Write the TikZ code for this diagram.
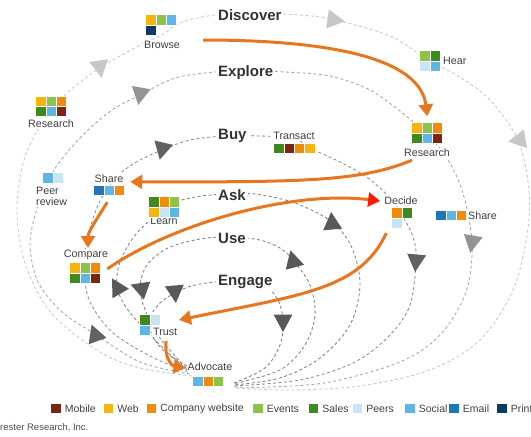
\documentclass[tikz,border=0pt]{standalone}
\usepackage{fontspec}
\setmainfont{Liberation Sans}
\usetikzlibrary{arrows.meta}

\definecolor{mobile}{HTML}{7A2511}
\definecolor{web}{HTML}{F6B40E}
\definecolor{company}{HTML}{F08C0A}
\definecolor{events}{HTML}{8DC34A}
\definecolor{sales}{HTML}{3F8A1F}
\definecolor{peers}{HTML}{C8E5F5}
\definecolor{social}{HTML}{5DB6E6}
\definecolor{email}{HTML}{1E77B8}
\definecolor{print}{HTML}{0D3A62}
\definecolor{flow}{HTML}{E8761E}

\newcommand{\flowmark}[4]{\fill[#4, shift={(#1,#2)}, rotate=#3] (10pt,0pt) -- (-7.5pt,9.5pt) -- (-7.5pt,-9.5pt) -- cycle;}

\tikzset{
  sq/.style={minimum size=10.3pt, inner sep=0pt, draw=white, line width=1pt},
  stage/.style={font=\fontsize{15}{17}\selectfont\bfseries, text=black!80, fill=white, inner sep=2pt, anchor=west},
  tlabel/.style={font=\fontsize{10.7}{11}\selectfont, text=black!75, fill=white, inner sep=1pt},
  looppath/.style={dash pattern=on 3pt off 2.5pt, line width=0.85pt},
  flowarrow/.style={draw=flow, line width=3pt, -{Triangle[width=14pt,length=12pt]}},
  keytext/.style={font=\fontsize{10.5}{12}\selectfont, text=black!75, anchor=west, inner sep=0pt}
}

\begin{document}
\begin{tikzpicture}[x=1pt,y=-1pt]
    \useasboundingbox (0,0) rectangle (531,437);

    \draw[looppath, black!22] plot[smooth, tension=0.55] coordinates {(192,376) (140,368) (100,352) (52,314) (26,266) (17,215) (22,168) (33,138) (51,112) (68,92) (100,68) (140,45) (162,35) (182,22) (215,15) (250,14) (300,15) (335,20) (390,36) (428,60) (458,76) (490,100) (518,140) (529,190) (527,235) (513,290) (480,340) (430,370) (360,386) (290,390) (236,388)};
    \draw[looppath, black!35] plot[smooth, tension=0.55] coordinates {(190,374) (140,362) (95,334) (62,312) (38,282) (30,245) (36,212) (46,190) (53,172) (65,155) (85,133) (112,110) (140,95) (175,78) (215,72) (250,71) (285,72) (330,76) (370,90) (405,115) (427,135) (445,155) (462,190) (472,243) (466,292) (440,335) (400,362) (330,382) (270,387) (234,387)};
    \draw[looppath, black!45] plot[smooth, tension=0.55] coordinates {(188,372) (150,356) (112,332) (90,302) (84,272) (86,245) (96,210) (108,188) (122,172) (140,160) (162,150) (190,140) (225,136) (260,136) (294,138) (310,148) (340,162) (368,178) (392,200) (405,220) (414,240) (416,262) (410,305) (390,335) (355,362) (300,380) (233,386)};
    \draw[looppath, black!50] plot[smooth, tension=0.55] coordinates {(187,370) (155,340) (128,310) (117,287) (120,262) (133,238) (150,220) (168,205) (195,197) (225,194) (255,194) (295,203) (332,222) (352,248) (360,285) (350,325) (320,358) (280,378) (233,385)};
    \draw[looppath, black!50] plot[smooth, tension=0.55] coordinates {(186,368) (160,338) (146,312) (140,288) (147,265) (168,248) (200,239) (230,237) (260,240) (280,248) (293,260) (310,285) (315,315) (305,345) (280,370) (233,384)};
    \draw[looppath, black!50] plot[smooth, tension=0.55] coordinates {(187,366) (165,352) (152,335) (150,318) (160,303) (175,293) (195,285) (230,281) (262,284) (278,300) (283,322) (280,345) (265,368) (234,383)};

    \flowmark{335}{20}{-8}{black!22}
    \flowmark{100}{68}{-81}{black!22}
    \flowmark{518}{140}{190}{black!22}
    \flowmark{140}{95}{-100}{black!42}
    \flowmark{472}{243}{-100}{black!42}
    \flowmark{95}{334}{110}{black!62}
    \flowmark{162}{150}{-103}{black!62}
    \flowmark{416}{262}{-95}{black!62}
    \flowmark{117}{287}{120}{black!65}
    \flowmark{332}{222}{95}{black!65}
    \flowmark{140}{288}{160}{black!65}
    \flowmark{293}{260}{105}{black!65}
    \flowmark{175}{293}{-85}{black!65}
    \flowmark{283}{322}{-90}{black!65}

    \node[stage] (discover) at (216,15) {Discover};
    \node[stage] (explore) at (216,73) {Explore};
    \node[stage] (buy) at (216,136) {Buy};
    \node[stage] (ask) at (216,195) {Ask};
    \node[stage] (use) at (216,238) {Use};
    \node[stage] (engage) at (216,282) {Engage};

    \node[tlabel] (brw) at (162,45) {Browse};
    \foreach \c [count=\i] in {web,events,social}
        \node[sq, fill=\c] (brw\i) at ({140.7+10.3*\i},20) {};
    \node[sq, fill=print] (brw4) at (151,30.5) {};

    \node[tlabel, anchor=west] (hear) at (442,61) {Hear};
    \foreach \c [count=\i] in {events,sales}
        \node[sq, fill=\c] (hear\i) at ({414.7+10.3*\i},56) {};
    \foreach \c [count=\i from 3] in {peers,social}
        \node[sq, fill=\c] (hear\i) at ({394.1+10.3*\i},66.3) {};

    \node[tlabel] (resL) at (51,124) {Research};
    \foreach \c [count=\i] in {web,events,company}
        \node[sq, fill=\c] (resL\i) at ({30.7+10.3*\i},101.5) {};
    \foreach \c [count=\i from 4] in {sales,social,mobile}
        \node[sq, fill=\c] (resL\i) at ({-0.2+10.3*\i},111.8) {};

    \node[tlabel] (resR) at (427,153) {Research};
    \foreach \c [count=\i] in {web,events,company}
        \node[sq, fill=\c] (resR\i) at ({406.7+10.3*\i},128) {};
    \foreach \c [count=\i from 4] in {sales,social,mobile}
        \node[sq, fill=\c] (resR\i) at ({375.8+10.3*\i},138.3) {};

    \node[tlabel] (trans) at (294,136) {Transact};
    \foreach \c [count=\i] in {sales,mobile,company,web}
        \node[sq, fill=\c] (trans\i) at ({268.7+10.3*\i},148.5) {};

    \node[tlabel] (shL) at (109,179) {Share};
    \foreach \c [count=\i] in {email,social,company}
        \node[sq, fill=\c] (shL\i) at ({88.7+10.3*\i},190.5) {};

    \node[tlabel, anchor=west, align=left] (peer) at (35,196.5) {Peer\\review};
    \foreach \c [count=\i] in {social,peers}
        \node[sq, fill=\c] (peer\i) at ({37.7+10.3*\i},178) {};

    \node[tlabel] (learn) at (164,221) {Learn};
    \foreach \c [count=\i] in {sales,company,events}
        \node[sq, fill=\c] (learn\i) at ({143.7+10.3*\i},202) {};
    \foreach \c [count=\i from 4] in {web,peers,social}
        \node[sq, fill=\c] (learn\i) at ({112.8+10.3*\i},212.3) {};

    \node[tlabel] (cmp) at (86,255) {Compare};
    \foreach \c [count=\i] in {web,events,company}
        \node[sq, fill=\c] (cmp\i) at ({64.7+10.3*\i},268) {};
    \foreach \c [count=\i from 4] in {sales,social,mobile}
        \node[sq, fill=\c] (cmp\i) at ({33.8+10.3*\i},278.3) {};

    \node[tlabel] (dec) at (401,201) {Decide};
    \foreach \c [count=\i] in {company,sales}
        \node[sq, fill=\c] (dec\i) at ({386.7+10.3*\i},213) {};
    \node[sq, fill=peers] (dec3) at (397,223.3) {};

    \node[tlabel, anchor=west] (shR) at (467,216) {Share};
    \foreach \c [count=\i] in {email,social,company}
        \node[sq, fill=\c] (shR\i) at ({430.7+10.3*\i},215.5) {};

    \node[tlabel, anchor=west] (trust) at (152,332) {Trust};
    \foreach \c [count=\i] in {sales,peers}
        \node[sq, fill=\c] (trust\i) at ({134.7+10.3*\i},320) {};
    \node[sq, fill=social] (trust3) at (145,330.3) {};

    \node[tlabel] (adv) at (210,367) {Advocate};
    \foreach \c [count=\i] in {social,company,events}
        \node[sq, fill=\c] (adv\i) at ({187.7+10.3*\i},381.5) {};

    \draw[flowarrow] ([shift={(22,-5)}]brw.east) .. controls (330,40) and (420,58) .. ([shift={(0,-6)}]resR2.north);
    \draw[flowarrow] ([shift={(-15,2)}]resR.south) .. controls (360,182) and (300,182) .. ([shift={(5,-3)}]shL3.north east);
    \draw[flowarrow] ([shift={(-2,6)}]shL2.south) .. controls (95,222) and (88,232) .. ([shift={(2,-1)}]cmp.north);
    \draw[flowarrow, -{Triangle[width=14pt,length=12pt,color=red!80!orange]}] ([shift={(6,1)}]cmp3.east) .. controls (170,225) and (290,190) .. ([shift={(-3,0)}]dec.west);
    \draw[flowarrow] ([shift={(-5,4)}]dec3.south west) .. controls (360,290) and (300,295) .. ([shift={(18,0)}]trust2.east);
    \draw[flowarrow] ([shift={(1,4)}]trust.south) .. controls (164,358) and (172,366) .. ([shift={(-1,1)}]adv.west);

    \foreach \c/\t/\x in {mobile/Mobile/56, web/Web/108.5, company/Company website/151.5, events/Events/258, sales/Sales/313.5, peers/Peers/357.5, social/Social/410, email/Email/454, print/Print/502} {
        \node[sq, fill=\c] (key-\c) at (\x,408.5) {};
        \node[keytext] (txt-\c) at ([shift={(3,0)}]key-\c.east) {\t};
    }

    \node[anchor=west, inner sep=0pt, font=\fontsize{9.5}{11}\selectfont, text=black!70] (src) at (0,428) {rester Research, Inc.};
\end{tikzpicture}
\end{document}
